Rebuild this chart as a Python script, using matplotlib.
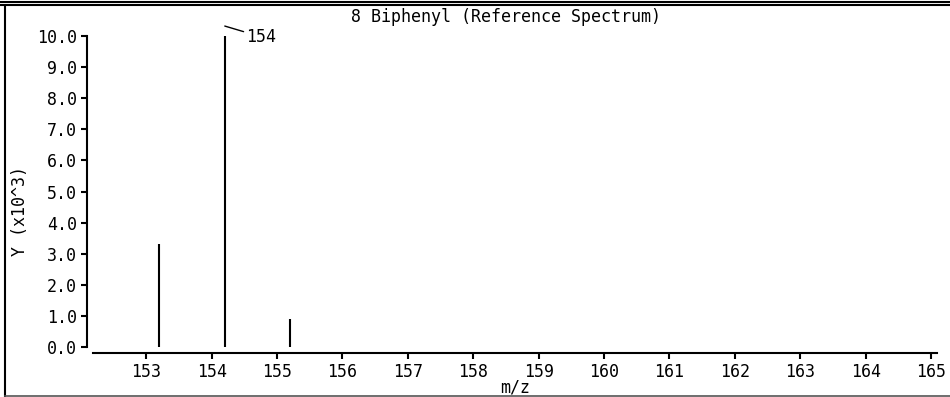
import matplotlib
matplotlib.use("Agg")
import matplotlib.pyplot as plt
from matplotlib.lines import Line2D

# Data
mz = [153.2, 154.2, 155.2]
intensity = [3.31, 10.0, 0.90]  # x10^3
x_ticks = list(range(153, 166))
y_ticks = [0.0, 1.0, 2.0, 3.0, 4.0, 5.0, 6.0, 7.0, 8.0, 9.0, 10.0]
title = "8 Biphenyl (Reference Spectrum)"
peak_label = "154"

W, H = 950, 397
fig = plt.figure(figsize=(W / 100, H / 100), dpi=100)
plt.rcParams['font.family'] = ['DejaVu Sans Mono']
FS = 12

def px(x, y):
    return x / W, 1 - y / H

ax = fig.add_axes([93 / W, 1 - 347 / H, (937 - 93) / W, (347 - 36) / H])
ax.set_xlim(153 - 53 / 65, 165 + 6 / 65)
ax.set_ylim(0, 10)
ax.vlines(mz, 0, intensity, colors='black', linewidth=1.5)

for s in ['top', 'right']:
    ax.spines[s].set_visible(False)
ax.spines['left'].set_position(('outward', 4.5))
ax.spines['left'].set_bounds(0, 10)
ax.spines['bottom'].set_position(('outward', 4.5))
for s in ['left', 'bottom']:
    ax.spines[s].set_linewidth(1.5)

ax.set_xticks(x_ticks)
ax.set_xticklabels([str(t) for t in x_ticks], fontsize=FS)
ax.set_yticks(y_ticks)
ax.set_yticklabels([f"{t:.1f}" for t in y_ticks], fontsize=FS)
ax.tick_params(axis='both', direction='out', length=4, width=1.5, pad=3)

ax.annotate(peak_label, xy=(154.2, 10.32), xytext=(154.53, 9.97),
            fontsize=FS, va='center', ha='left', annotation_clip=False,
            arrowprops=dict(arrowstyle='-', color='black', lw=1,
                            shrinkA=0, shrinkB=0))

fig.text(*px(506, 17), title, ha='center', va='center', fontsize=FS)
fig.text(*px(515, 388), "m/z", ha='center', va='center', fontsize=FS)
fig.text(*px(20, 211), "Y (x10^3)", ha='center', va='center', rotation=90, fontsize=FS)

# frame lines
fig.add_artist(Line2D([0, 1], [1 - 1.5 / H, 1 - 1.5 / H], transform=fig.transFigure, color='black', lw=1.5))
fig.add_artist(Line2D([0, 1], [1 - 5 / H, 1 - 5 / H], transform=fig.transFigure, color='black', lw=1.5))
fig.add_artist(Line2D([5 / W, 5 / W], [1 - 6 / H, 1 - 395.5 / H], transform=fig.transFigure, color='black', lw=1.5))
fig.add_artist(Line2D([5 / W, 1], [1 - 395.5 / H, 1 - 395.5 / H], transform=fig.transFigure, color='#555555', lw=1.2))

fig.savefig("out.png", dpi=100)
